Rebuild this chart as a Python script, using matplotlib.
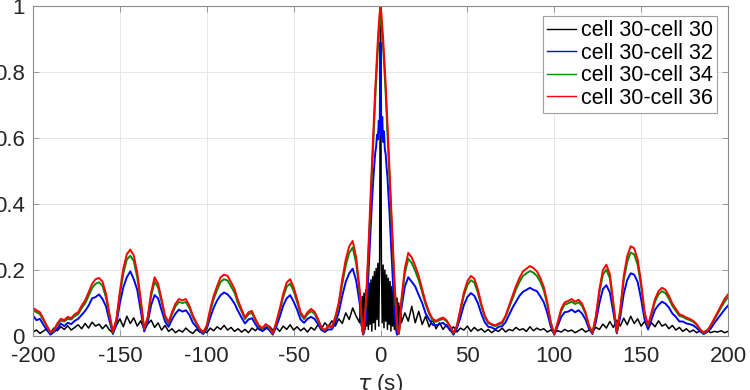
import numpy as np
import matplotlib
matplotlib.use("Agg")
from matplotlib import pyplot as plt

# lag axis: coarse away from zero, fine around the main lobe
tau = np.concatenate([np.arange(-200, -12, 2),
                      np.arange(-12, 12.01, 0.5),
                      np.arange(14, 201, 2)])

labels = ['cell 30-cell 30', 'cell 30-cell 32',
          'cell 30-cell 34', 'cell 30-cell 36']
colors = ['k', 'b', (0.0, 0.55, 0.0), 'r']

x_ticks = [-200, -150, -100, -50, 0, 50, 100, 150, 200]
y_ticks = [0, 0.2, 0.4, 0.6, 0.8, 1]
y_tick_labels = ['0', '0.2', '0.4', '0.6', '0.8', '1']

# cell 30-cell 30
black = [
    0.012, 0.018, 0.008, 0.015, 0.022, 0.010, 0.024, 0.016, 0.028, 0.020,
    0.031, 0.018, 0.026, 0.034, 0.022, 0.038, 0.024, 0.042, 0.030, 0.036,
    0.022, 0.034, 0.018, 0.010, 0.032, 0.052, 0.028, 0.060, 0.038, 0.055,
    0.030, 0.046, 0.020, 0.036, 0.048, 0.026, 0.040, 0.018, 0.032, 0.014,
    0.022, 0.010, 0.018, 0.012, 0.024, 0.014, 0.008, 0.020, 0.012, 0.016,
    0.010, 0.024, 0.016, 0.028, 0.020, 0.032, 0.018, 0.026, 0.014, 0.022,
    0.012, 0.020, 0.010, 0.024, 0.016, 0.028, 0.014, 0.022, 0.030, 0.018,
    0.026, 0.014, 0.030, 0.020, 0.034, 0.018, 0.028, 0.016, 0.024, 0.012,
    0.026, 0.018, 0.034, 0.022, 0.040, 0.028, 0.046, 0.030, 0.052, 0.038,
    0.070, 0.050, 0.085, 0.060,
    # centre
    0.040, 0.105, 0.030, 0.120, 0.025, 0.130, 0.020, 0.140, 0.030, 0.150,
    0.020, 0.160, 0.035, 0.170, 0.015, 0.180, 0.040, 0.195, 0.020, 0.205,
    0.050, 0.220, 0.030, 0.240, 1.000, 0.230, 0.040, 0.215, 0.025, 0.200,
    0.045, 0.185, 0.020, 0.175, 0.035, 0.165, 0.015, 0.150, 0.030, 0.140,
    0.020, 0.130, 0.035, 0.115, 0.025, 0.100, 0.030, 0.090, 0.040,
    # right
    0.070, 0.045, 0.090, 0.040, 0.075, 0.035, 0.060, 0.028, 0.050, 0.022,
    0.040, 0.020, 0.034, 0.016, 0.028, 0.012, 0.024, 0.018, 0.030, 0.014,
    0.026, 0.016, 0.022, 0.012, 0.020, 0.010, 0.018, 0.014, 0.024, 0.012,
    0.020, 0.016, 0.026, 0.018, 0.022, 0.014, 0.028, 0.016, 0.024, 0.018,
    0.022, 0.012, 0.018, 0.010, 0.016, 0.012, 0.020, 0.014, 0.018, 0.010,
    0.016, 0.022, 0.012, 0.018, 0.014, 0.026, 0.020, 0.036, 0.024, 0.044,
    0.026, 0.048, 0.030, 0.054, 0.034, 0.060, 0.038, 0.052, 0.030, 0.044,
    0.024, 0.040, 0.028, 0.046, 0.030, 0.036, 0.022, 0.032, 0.018, 0.026,
    0.014, 0.022, 0.012, 0.018, 0.010, 0.016, 0.012, 0.018, 0.010, 0.014,
    0.012, 0.016, 0.010, 0.014,
]

# cell 30-cell 32
blue = [
    0.062, 0.048, 0.052, 0.034, 0.018, 0.004, 0.012, 0.022, 0.038, 0.030,
    0.040, 0.036, 0.046, 0.052, 0.064, 0.076, 0.092, 0.114, 0.118, 0.126,
    0.112, 0.090, 0.046, 0.006, 0.036, 0.100, 0.148, 0.178, 0.196, 0.172,
    0.140, 0.076, 0.014, 0.040, 0.094, 0.124, 0.114, 0.078, 0.044, 0.028,
    0.050, 0.068, 0.080, 0.074, 0.078, 0.064, 0.040, 0.028, 0.014, 0.006,
    0.022, 0.056, 0.086, 0.108, 0.124, 0.132, 0.126, 0.114, 0.098, 0.076,
    0.056, 0.038, 0.050, 0.054, 0.036, 0.020, 0.016, 0.026, 0.018, 0.004,
    0.028, 0.058, 0.092, 0.114, 0.124, 0.104, 0.080, 0.050, 0.040, 0.052,
    0.058, 0.052, 0.036, 0.018, 0.012, 0.020, 0.020, 0.040, 0.072, 0.122,
    0.164, 0.190, 0.204, 0.168,
    # centre
    0.100, 0.074, 0.046, 0.018, 0.004, 0.010, 0.024, 0.052, 0.086, 0.128,
    0.182, 0.236, 0.296, 0.348, 0.398, 0.444, 0.488, 0.522, 0.556, 0.574,
    0.610, 0.596, 0.652, 0.618, 0.890, 0.604, 0.664, 0.588, 0.620, 0.566,
    0.550, 0.512, 0.482, 0.432, 0.392, 0.338, 0.290, 0.232, 0.178, 0.126,
    0.084, 0.046, 0.018, 0.004, 0.010, 0.020, 0.040, 0.062, 0.082,
    # right
    0.150, 0.178, 0.164, 0.150, 0.124, 0.100, 0.068, 0.050, 0.034, 0.032,
    0.036, 0.040, 0.030, 0.020, 0.004, 0.024, 0.056, 0.094, 0.118, 0.130,
    0.122, 0.100, 0.068, 0.042, 0.028, 0.026, 0.020, 0.028, 0.030, 0.042,
    0.064, 0.086, 0.104, 0.122, 0.134, 0.140, 0.146, 0.140, 0.136, 0.120,
    0.102, 0.070, 0.028, 0.004, 0.030, 0.058, 0.072, 0.074, 0.080, 0.072,
    0.078, 0.068, 0.050, 0.022, 0.006, 0.044, 0.100, 0.142, 0.154, 0.132,
    0.072, 0.008, 0.058, 0.128, 0.170, 0.190, 0.186, 0.164, 0.112, 0.050,
    0.020, 0.050, 0.080, 0.094, 0.104, 0.098, 0.086, 0.068, 0.058, 0.044,
    0.044, 0.038, 0.036, 0.032, 0.024, 0.014, 0.006, 0.012, 0.022, 0.038,
    0.052, 0.066, 0.080, 0.092,
]

# cell 30-cell 34
green = [
    0.078, 0.072, 0.066, 0.048, 0.028, 0.010, 0.016, 0.034, 0.047, 0.044,
    0.052, 0.050, 0.060, 0.066, 0.084, 0.099, 0.121, 0.146, 0.158, 0.163,
    0.152, 0.117, 0.062, 0.010, 0.047, 0.124, 0.190, 0.232, 0.243, 0.227,
    0.178, 0.103, 0.020, 0.052, 0.121, 0.165, 0.147, 0.103, 0.057, 0.038,
    0.066, 0.090, 0.103, 0.100, 0.103, 0.085, 0.057, 0.037, 0.020, 0.010,
    0.029, 0.075, 0.112, 0.140, 0.164, 0.172, 0.168, 0.150, 0.131, 0.099,
    0.075, 0.051, 0.066, 0.070, 0.047, 0.029, 0.022, 0.033, 0.025, 0.007,
    0.038, 0.075, 0.118, 0.149, 0.159, 0.136, 0.103, 0.066, 0.051, 0.066,
    0.075, 0.068, 0.047, 0.024, 0.016, 0.029, 0.026, 0.053, 0.094, 0.158,
    0.214, 0.252, 0.268, 0.220,
    # centre
    0.130, 0.098, 0.060, 0.024, 0.006, 0.026, 0.055, 0.090, 0.132, 0.184,
    0.242, 0.300, 0.364, 0.424, 0.484, 0.544, 0.604, 0.664, 0.722, 0.774,
    0.826, 0.872, 0.914, 0.950, 0.972, 0.948, 0.914, 0.874, 0.830, 0.782,
    0.732, 0.676, 0.616, 0.556, 0.500, 0.444, 0.386, 0.328, 0.270, 0.212,
    0.158, 0.110, 0.072, 0.036, 0.014, 0.006, 0.022, 0.058, 0.100,
    # right
    0.190, 0.234, 0.221, 0.197, 0.169, 0.132, 0.095, 0.067, 0.048, 0.043,
    0.048, 0.052, 0.045, 0.028, 0.009, 0.030, 0.076, 0.123, 0.154, 0.169,
    0.162, 0.132, 0.091, 0.058, 0.039, 0.034, 0.030, 0.035, 0.039, 0.058,
    0.086, 0.113, 0.141, 0.164, 0.182, 0.190, 0.197, 0.192, 0.182, 0.164,
    0.138, 0.095, 0.039, 0.005, 0.039, 0.076, 0.095, 0.099, 0.104, 0.097,
    0.102, 0.091, 0.067, 0.030, 0.009, 0.058, 0.132, 0.186, 0.201, 0.175,
    0.095, 0.011, 0.076, 0.169, 0.225, 0.253, 0.247, 0.216, 0.151, 0.067,
    0.030, 0.067, 0.104, 0.126, 0.136, 0.130, 0.113, 0.091, 0.076, 0.061,
    0.058, 0.052, 0.048, 0.043, 0.033, 0.019, 0.009, 0.015, 0.030, 0.048,
    0.067, 0.086, 0.104, 0.117,
]

# cell 30-cell 36
red = [
    0.085, 0.078, 0.072, 0.052, 0.031, 0.012, 0.018, 0.038, 0.052, 0.048,
    0.058, 0.054, 0.066, 0.072, 0.092, 0.108, 0.132, 0.158, 0.172, 0.176,
    0.165, 0.128, 0.068, 0.012, 0.052, 0.135, 0.205, 0.248, 0.262, 0.244,
    0.192, 0.112, 0.022, 0.058, 0.132, 0.178, 0.158, 0.112, 0.062, 0.042,
    0.072, 0.098, 0.112, 0.108, 0.112, 0.092, 0.062, 0.041, 0.022, 0.012,
    0.032, 0.082, 0.122, 0.152, 0.178, 0.186, 0.182, 0.163, 0.142, 0.108,
    0.082, 0.056, 0.072, 0.076, 0.052, 0.032, 0.024, 0.036, 0.028, 0.008,
    0.042, 0.082, 0.128, 0.162, 0.172, 0.148, 0.112, 0.072, 0.056, 0.072,
    0.082, 0.074, 0.052, 0.026, 0.018, 0.032, 0.028, 0.058, 0.102, 0.172,
    0.232, 0.272, 0.288, 0.238,
    # centre
    0.142, 0.108, 0.068, 0.028, 0.008, 0.030, 0.062, 0.100, 0.145, 0.200,
    0.262, 0.322, 0.390, 0.452, 0.512, 0.572, 0.632, 0.692, 0.752, 0.802,
    0.855, 0.900, 0.942, 0.978, 1.000, 0.978, 0.942, 0.902, 0.858, 0.810,
    0.760, 0.702, 0.642, 0.582, 0.528, 0.470, 0.410, 0.350, 0.290, 0.230,
    0.172, 0.122, 0.080, 0.042, 0.018, 0.008, 0.025, 0.065, 0.110,
    # right
    0.205, 0.252, 0.238, 0.212, 0.182, 0.142, 0.102, 0.072, 0.052, 0.046,
    0.052, 0.056, 0.048, 0.030, 0.010, 0.032, 0.082, 0.132, 0.166, 0.182,
    0.174, 0.142, 0.098, 0.062, 0.042, 0.036, 0.032, 0.038, 0.042, 0.062,
    0.092, 0.122, 0.152, 0.176, 0.196, 0.204, 0.212, 0.206, 0.196, 0.176,
    0.148, 0.102, 0.042, 0.006, 0.042, 0.082, 0.102, 0.106, 0.112, 0.104,
    0.110, 0.098, 0.072, 0.032, 0.010, 0.062, 0.142, 0.200, 0.216, 0.188,
    0.102, 0.012, 0.082, 0.182, 0.242, 0.272, 0.266, 0.232, 0.162, 0.072,
    0.032, 0.072, 0.112, 0.136, 0.146, 0.140, 0.122, 0.098, 0.082, 0.066,
    0.062, 0.056, 0.052, 0.046, 0.036, 0.020, 0.010, 0.016, 0.032, 0.052,
    0.072, 0.092, 0.112, 0.126,
]

plt.rcParams['font.family'] = ['Liberation Sans', 'DejaVu Sans']
plt.rcParams['axes.unicode_minus'] = False

edge = '#8c8c8c'
fig = plt.figure(figsize=(7.5, 3.9), dpi=100)
ax = fig.add_axes([33 / 750, 1 - 336 / 390, 695 / 750, 330 / 390])

widths = [1.1, 1.4, 1.4, 1.4]
for series, c, lab, lw in zip([black, blue, green, red], colors, labels,
                              widths):
    ax.plot(tau, series, color=c, lw=lw, label=lab)

ax.set_xlim(-200, 200)
ax.set_ylim(0, 1)
ax.set_xticks(x_ticks)
ax.set_yticks(y_ticks)
ax.set_yticklabels(y_tick_labels)
ax.grid(True, color='#e6e6e6', lw=0.7)
ax.set_axisbelow(True)
ax.tick_params(direction='in', length=4, width=0.6, color=edge,
               labelsize=16, labelcolor='#262626', top=True, right=True)
ax.tick_params(axis='y', pad=6)
ax.tick_params(axis='x', pad=7)
for sp in ax.spines.values():
    sp.set_color(edge)
    sp.set_linewidth(0.8)

ax.set_xlabel(r'$\tau$ (s)', fontsize=16, color='#262626', labelpad=4)

leg = ax.legend(loc='upper right', bbox_to_anchor=(717 / 750, 1 - 16 / 390),
                bbox_transform=fig.transFigure, borderaxespad=0,
                fontsize=15.5, fancybox=False, framealpha=1,
                handlelength=1.35, handletextpad=0.2, labelspacing=0.07,
                borderpad=0.2)
leg.get_frame().set_edgecolor('#a0a0a0')
leg.get_frame().set_linewidth(0.8)
for line in leg.get_lines():
    line.set_linewidth(1.0)

fig.savefig('out.png', dpi=100)
